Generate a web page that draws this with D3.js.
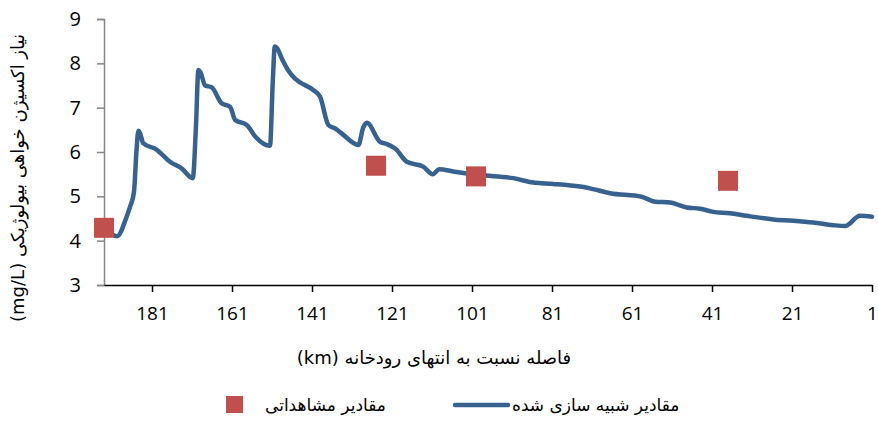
<!DOCTYPE html>
<html>
<head>
<meta charset="utf-8">
<script src="https://cdn.jsdelivr.net/npm/d3@7"></script>
<style>
  body { margin: 0; background: #fff; }
  svg { display: block; }
  .fa { font-family: "DejaVu Sans", "Noto Sans", sans-serif; }
</style>
</head>
<body>
<svg id="chart" width="878" height="422"></svg>
<script>
// simulated BOD along the river (km from river end, mg/L)
var simKm = [193, 189.7, 187.5, 186.5, 185.5, 184.9, 184.4, 183.9, 183.2, 179.8, 176.5, 173.6, 170.8,
  170, 169.4, 168.9, 167.7, 166.1, 163.6, 161.5, 160.2, 157.3, 155.2, 151.5,
  150.8, 150.3, 149.8, 148.5, 147, 145.3, 144, 140.7, 139, 136.9, 135.2, 133.6, 129.4,
  128.2, 127.3, 124, 122.3, 120.2, 117.3, 113.2, 110.8, 109.2, 105.7, 99,
  90.7, 85.7, 80.7, 74, 71.5, 66.5, 58.6, 55.2, 51.5, 47.3, 44, 40.7,
  36.5, 32.3, 25.7, 20.7, 15.7, 10.7, 7.7, 4, 1];
var simVal = [4.29, 4.1, 4.5, 4.76, 5.1, 6.0, 6.48, 6.4, 6.2, 6.05, 5.78, 5.63, 5.41,
  6.6, 7.85, 7.8, 7.5, 7.46, 7.1, 7.02, 6.72, 6.61, 6.35, 6.14,
  7.6, 8.38, 8.35, 8.1, 7.85, 7.66, 7.57, 7.4, 7.25, 6.61, 6.53, 6.42, 6.16,
  6.55, 6.66, 6.23, 6.18, 6.08, 5.78, 5.67, 5.5, 5.61, 5.56, 5.48,
  5.41, 5.31, 5.28, 5.22, 5.18, 5.07, 4.99, 4.88, 4.86, 4.75, 4.72, 4.65,
  4.62, 4.56, 4.48, 4.45, 4.41, 4.35, 4.33, 4.56, 4.54];

// observed BOD
var obsKm = [193, 125, 100, 37];
var obsVal = [4.29, 5.69, 5.45, 5.35];

var xTicks = [181, 161, 141, 121, 101, 81, 61, 41, 21, 1];
var yTicks = [3, 4, 5, 6, 7, 8, 9];

var xTitle = "فاصله نسبت به انتهای رودخانه (km)";
var yTitle = "نیاز اکسیژن خواهی بیولوژیکی (mg/L)";
var simName = "مقادیر شبیه سازی شده";
var obsName = "مقادیر مشاهداتی";

var LINE = "#37618F", MARK = "#C0504D";

var svg = d3.select("#chart");
var x = d3.scaleLinear().domain([193, 1]).range([104, 872]);
var y = d3.scaleLinear().domain([3, 9]).range([285, 19]);

// y axis
var ya = svg.append("g").attr("transform", "translate(104,0)")
  .call(d3.axisLeft(y).tickValues(yTicks).tickSize(7).tickPadding(16).tickFormat(d3.format("d")));
ya.select(".domain").attr("stroke", "#868686").attr("stroke-width", 1.5);
ya.selectAll(".tick line").attr("stroke", "#868686").attr("stroke-width", 1.5);
ya.selectAll("text").attr("font-family", "Open Sans, sans-serif").attr("font-size", 20).attr("fill", "#000");

// x axis
var xa = svg.append("g").attr("transform", "translate(0,285)")
  .call(d3.axisBottom(x).tickValues(xTicks).tickSize(7).tickPadding(15).tickSizeOuter(0));
xa.select(".domain").attr("stroke", "#000").attr("stroke-width", 1.5);
xa.selectAll(".tick line").attr("stroke", "#000").attr("stroke-width", 1.5);
xa.selectAll("text").attr("font-family", "Open Sans, sans-serif")
  .attr("font-size", 19).attr("fill", "#000");

// simulated line
var line = d3.line()
  .x(function (d) { return x(d[0]); })
  .y(function (d) { return y(d[1]); })
  .curve(d3.curveMonotoneX);
svg.append("path")
  .datum(d3.zip(simKm, simVal))
  .attr("d", line)
  .attr("fill", "none")
  .attr("stroke", LINE)
  .attr("stroke-width", 4.5)
  .attr("stroke-linejoin", "round")
  .attr("stroke-linecap", "round");

// observed squares
svg.selectAll(".obs")
  .data(d3.zip(obsKm, obsVal))
  .enter()
  .append("rect")
  .attr("class", "obs")
  .attr("x", function (d) { return x(d[0]) - 10; })
  .attr("y", function (d) { return y(d[1]) - 10; })
  .attr("width", 20)
  .attr("height", 20)
  .attr("fill", MARK);

// titles
svg.append("text").attr("class", "fa")
  .attr("x", 434).attr("y", 364)
  .attr("text-anchor", "middle").attr("direction", "rtl")
  .attr("font-size", 18).text(xTitle);

svg.append("text").attr("class", "fa")
  .attr("transform", "translate(24,178) rotate(-90)")
  .attr("text-anchor", "middle").attr("direction", "rtl")
  .attr("font-size", 18).text(yTitle);

// legend
var lg = svg.append("g");
lg.append("line").attr("x1", 455).attr("x2", 508).attr("y1", 405).attr("y2", 405)
  .attr("stroke", LINE).attr("stroke-width", 4.5).attr("stroke-linecap", "round");
lg.append("text").attr("class", "fa").attr("x", 512).attr("y", 411)
  .attr("direction", "rtl").attr("text-anchor", "end").attr("font-size", 17).text(simName);
lg.append("rect").attr("x", 226).attr("y", 396).attr("width", 17).attr("height", 17).attr("fill", MARK);
lg.append("text").attr("class", "fa").attr("x", 265).attr("y", 411)
  .attr("direction", "rtl").attr("text-anchor", "end").attr("font-size", 17).text(obsName);
</script>
</body>
</html>
